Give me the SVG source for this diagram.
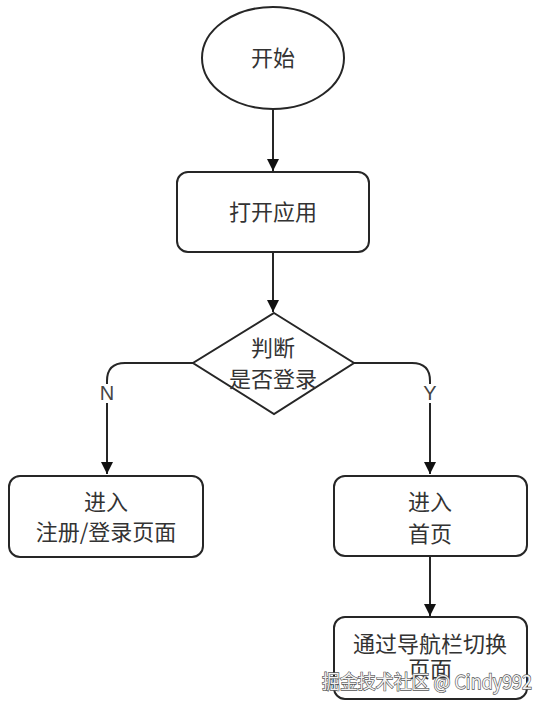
<svg xmlns="http://www.w3.org/2000/svg" width="553" height="710" viewBox="0 0 553 710">
<defs>
<style>
.shape{fill:#ffffff;stroke:#262626;stroke-width:2}
.conn{fill:none;stroke:#262626;stroke-width:2}
.lbl{font-family:"Noto Sans CJK SC","Liberation Sans",sans-serif;font-size:22px;fill:#333333;text-anchor:middle}
.yn{font-family:"Liberation Sans","Noto Sans",sans-serif;font-size:20px;fill:#444444;text-anchor:middle}
.wm{font-family:"Noto Sans CJK SC","Liberation Sans",sans-serif;font-size:19px;fill:#f2f2f2;stroke:#555555;stroke-width:1.3;paint-order:stroke;text-anchor:start}
</style>
<marker id="arr" viewBox="0 0 12 12" refX="12" refY="6" markerWidth="12" markerHeight="12" markerUnits="userSpaceOnUse" orient="auto">
<path d="M0,0 L12,6 L0,12 Z" fill="#111111"/>
</marker>
</defs>
<rect width="553" height="710" fill="#ffffff"/>
<g id="connectors">
<line class="conn" x1="273" y1="110" x2="273" y2="171" marker-end="url(#arr)"/>
<line class="conn" x1="273" y1="252" x2="273" y2="312" marker-end="url(#arr)"/>
<path class="conn" d="M193,363 L125,363 Q107,363 107,381 L107,384"/>
<path class="conn" d="M107,403 L107,474" marker-end="url(#arr)"/>
<path class="conn" d="M354,363 L412,363 Q430,363 430,381 L430,384"/>
<path class="conn" d="M430,403 L430,474" marker-end="url(#arr)"/>
<line class="conn" x1="430" y1="556" x2="430" y2="616" marker-end="url(#arr)"/>
<text class="yn" x="107" y="400">N</text>
<text class="yn" x="430" y="400">Y</text>
</g>
<g id="start">
<ellipse class="shape" cx="273" cy="58" rx="71" ry="51"/>
<text class="lbl" x="273" y="66">开始</text>
</g>
<g id="open">
<rect class="shape" x="177" y="172" width="192" height="80" rx="11"/>
<text class="lbl" x="273" y="220">打开应用</text>
</g>
<g id="decide">
<polygon class="shape" points="274,313 354,363 274,414 193,363"/>
<text class="lbl" x="273" y="356">判断</text>
<text class="lbl" x="273" y="387">是否登录</text>
</g>
<g id="login">
<rect class="shape" x="9" y="476" width="194" height="81" rx="11"/>
<text class="lbl" x="106" y="510">进入</text>
<text class="lbl" x="106" y="540">注册/登录页面</text>
</g>
<g id="home">
<rect class="shape" x="334" y="476" width="193" height="80" rx="11"/>
<text class="lbl" x="430" y="510">进入</text>
<text class="lbl" x="430" y="542">首页</text>
</g>
<g id="nav">
<rect class="shape" x="334" y="617" width="193" height="82" rx="11"/>
<text class="lbl" x="430" y="652">通过导航栏切换</text>
<text class="lbl" x="430" y="677">页面</text>
</g>
<text class="wm" x="322" y="689" textLength="210" lengthAdjust="spacingAndGlyphs">掘金技术社区 @ Cindy992</text>
</svg>
